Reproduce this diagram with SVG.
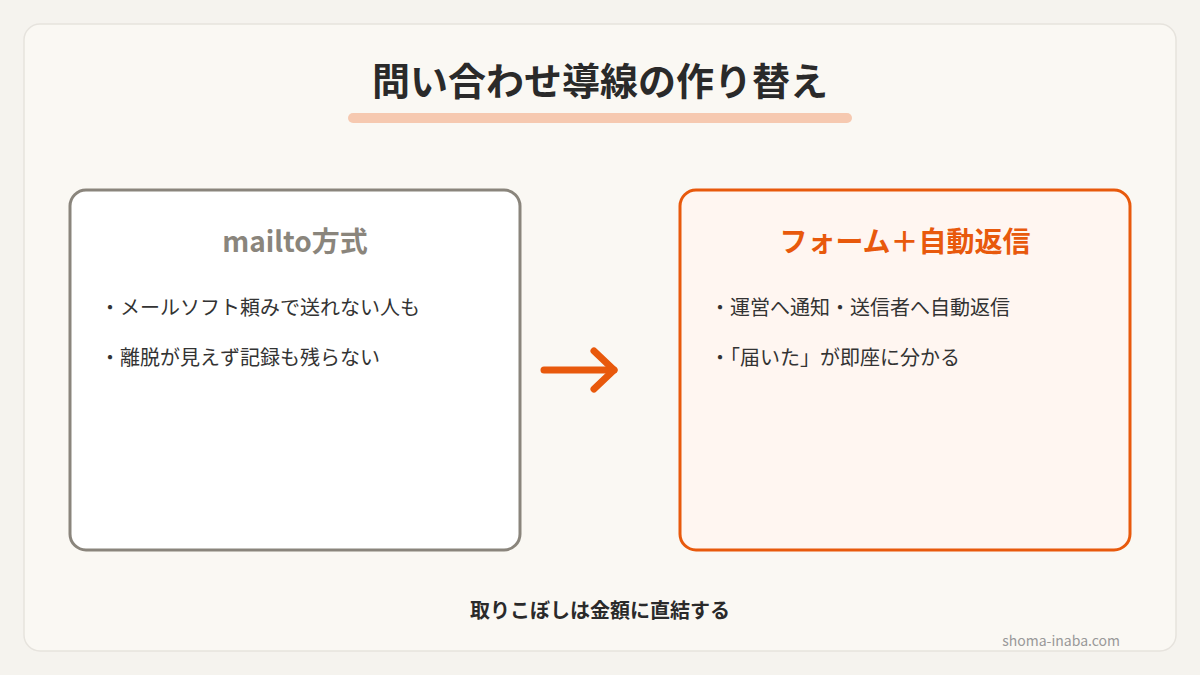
<svg xmlns="http://www.w3.org/2000/svg" width="1200" height="675" viewBox="0 0 1200 675">
<style>
text{font-family:"Noto Sans CJK JP","Noto Sans",sans-serif}
.b{font-size:20px;fill:#333}
.h{font-size:28px;font-weight:bold;text-anchor:middle}
</style>
<rect width="1200" height="675" fill="#f5f3ee"/>
<rect x="24" y="24" width="1152" height="627" rx="16" fill="#faf8f3" stroke="#e6e3dd" stroke-width="1.5"/>
<text x="600" y="95" font-size="38" font-weight="bold" fill="#2a2a2a" text-anchor="middle">問い合わせ導線の作り替え</text>
<rect x="348" y="113" width="504" height="10" rx="5" fill="#f6c9b0"/>
<g id="left">
<rect x="70" y="190" width="450" height="360" rx="16" fill="#fff" stroke="#8a857c" stroke-width="3"/>
<text x="295" y="252" class="h" fill="#8a857c">mailto方式</text>
<text x="100" y="315" class="b">・メールソフト頼みで送れない人も</text>
<text x="100" y="365" class="b">・離脱が見えず記録も残らない</text>
</g>
<g id="right">
<rect x="680" y="190" width="450" height="360" rx="16" fill="#fff6f1" stroke="#e8590c" stroke-width="3"/>
<text x="905" y="252" class="h" fill="#e8590c">フォーム＋自動返信</text>
<text x="710" y="315" class="b">・運営へ通知・送信者へ自動返信</text>
<text x="710" y="365" class="b">・「届いた」が即座に分かる</text>
</g>
<g id="connectors" stroke="#e8590c" stroke-width="7" fill="none" stroke-linecap="round" stroke-linejoin="round">
<line x1="544" y1="370" x2="614" y2="370"/>
<polyline points="594,351 614,370 594,389"/>
</g>
<text x="600" y="618" font-size="20" font-weight="bold" fill="#2a2a2a" text-anchor="middle">取りこぼしは金額に直結する</text>
<text x="1120" y="646" font-size="14" fill="#999" text-anchor="end">shoma-inaba.com</text>
</svg>
